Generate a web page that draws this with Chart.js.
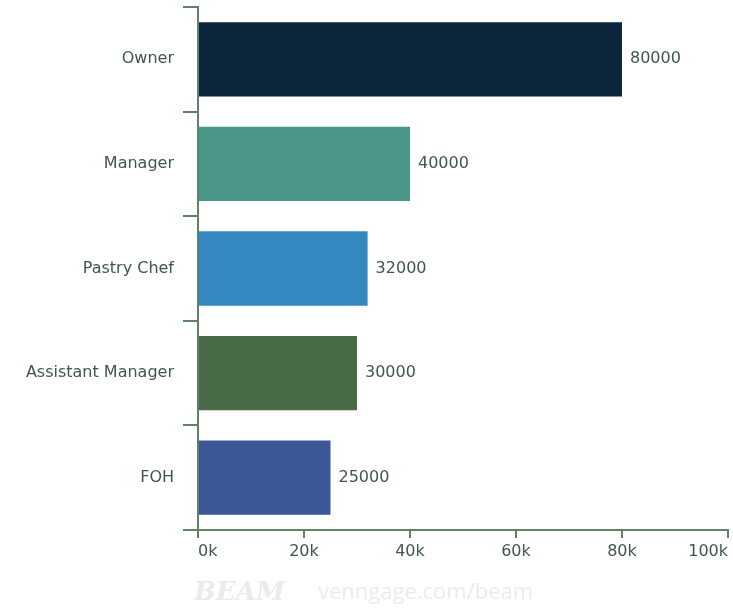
<!DOCTYPE html>
<html>
<head>
<meta charset="utf-8">
<script src="https://cdn.jsdelivr.net/npm/chart.js@4"></script>
<style>
  html, body { margin: 0; padding: 0; background: #fff; }
  #wrap { width: 733px; height: 613px; position: relative; }
</style>
</head>
<body>
<div id="wrap"><canvas id="salaryChart"></canvas></div>
<script>
let roles = ['Owner', 'Manager', 'Pastry Chef', 'Assistant Manager', 'FOH'];
let salaries = [80000, 40000, 32000, 30000, 25000];
let barColors = ['#0b253b', '#4a9688', '#3589c1', '#4a6b47', '#3c5796'];
let xTicks = [0, 20000, 40000, 60000, 80000, 100000];

let textColor = '#3f5849';
let axisColor = '#5f8366';
let fontFamily = '"DejaVu Sans", "Noto Sans", sans-serif';

// value labels at the end of each bar
let valueLabels = {
    id: 'valueLabels',
    afterDatasetsDraw(chart) {
        let ctx = chart.ctx;
        let meta = chart.getDatasetMeta(0);
        ctx.save();
        ctx.fillStyle = textColor;
        ctx.font = '16px ' + fontFamily;
        ctx.textAlign = 'left';
        ctx.textBaseline = 'middle';
        meta.data.forEach((bar, i) => {
            ctx.fillText(String(salaries[i]), bar.x + 8, bar.y);
        });
        ctx.restore();
    }
};

// faint watermark under the axis
let watermark = {
    id: 'watermark',
    afterDraw(chart) {
        let ctx = chart.ctx;
        ctx.save();
        ctx.fillStyle = '#ebebeb';
        ctx.textBaseline = 'middle';
        ctx.font = 'italic bold 26px "DejaVu Serif", serif';
        ctx.fillText('BEAM', 194, 593);
        ctx.font = '22px "Open Sans", sans-serif';
        ctx.fillText('venngage.com/beam', 318, 593);
        ctx.restore();
    }
};

let ctxSalary = document.getElementById('salaryChart').getContext('2d');
let salaryChart = new Chart(ctxSalary, {
    type: 'bar',
    data: {
        labels: roles,
        datasets: [{
            data: salaries,
            backgroundColor: barColors,
            borderWidth: 0,
            categoryPercentage: 1,
            barPercentage: 0.71
        }]
    },
    options: {
        indexAxis: 'y',
        responsive: true,
        maintainAspectRatio: false,
        animation: false,
        layout: {
            padding: { top: 7, right: 5, left: 0, bottom: 0 }
        },
        plugins: {
            legend: { display: false },
            tooltip: { enabled: false }
        },
        scales: {
            x: {
                min: 0,
                max: 100000,
                afterBuildTicks: (scale) => {
                    scale.ticks = xTicks.map(v => ({ value: v }));
                },
                afterFit: (scale) => { scale.height = 83; },
                grid: {
                    drawOnChartArea: false,
                    drawTicks: true,
                    tickLength: 8,
                    color: axisColor,
                    lineWidth: 2
                },
                border: { color: axisColor, width: 2 },
                ticks: {
                    align: 'inner',
                    padding: 4,
                    color: textColor,
                    font: { family: fontFamily, size: 16 },
                    callback: (v) => (v / 1000) + 'k'
                }
            },
            y: {
                afterFit: (scale) => {
                    scale.width = 198;
                    scale.paddingTop = 0;
                    scale.paddingBottom = 0;
                },
                grid: {
                    offset: true,
                    drawOnChartArea: false,
                    drawTicks: true,
                    tickLength: 15,
                    color: axisColor,
                    lineWidth: 2
                },
                border: { color: axisColor, width: 2 },
                ticks: {
                    padding: 9,
                    color: textColor,
                    font: { family: fontFamily, size: 16 }
                }
            }
        }
    },
    plugins: [valueLabels, watermark]
});
</script>
</body>
</html>
